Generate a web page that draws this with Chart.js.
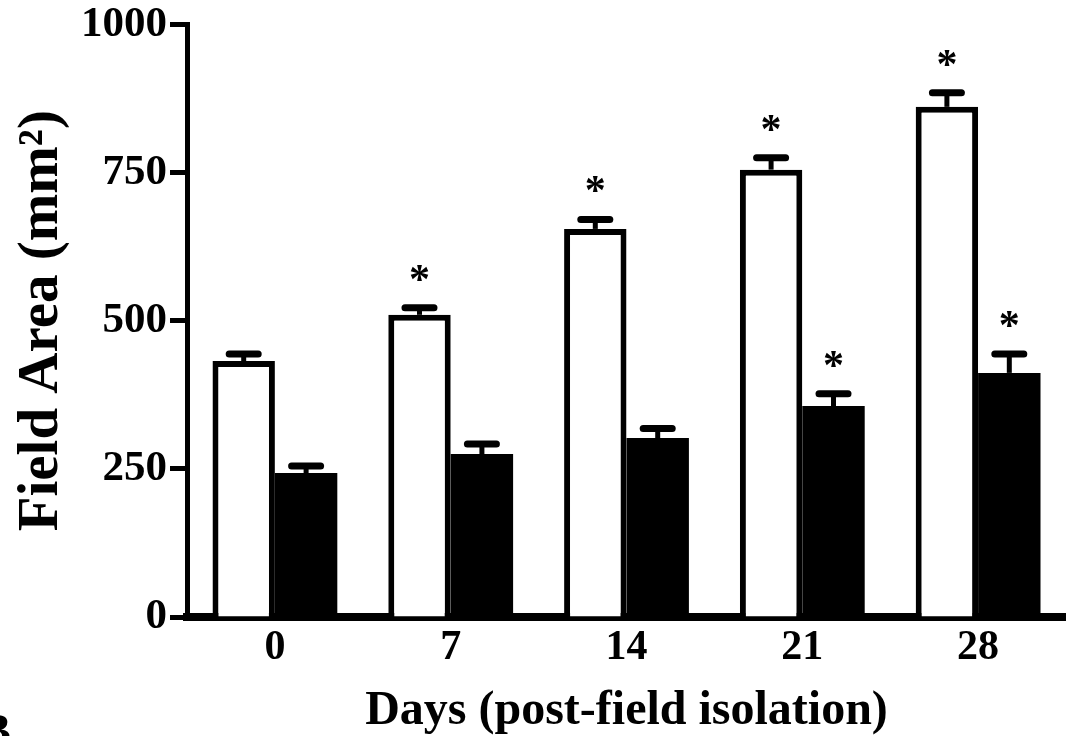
<!DOCTYPE html>
<html>
<head>
<meta charset="utf-8">
<script src="https://cdn.jsdelivr.net/npm/chart.js@4"></script>
<style>
  html, body { margin: 0; padding: 0; background: #fff; }
</style>
</head>
<body>
<canvas id="chart" width="1066" height="736"></canvas>
<script>
// Field area over time, open vs filled groups (mean + SEM)
const days = ['0', '7', '14', '21', '28'];
const openMeans = [432, 510, 655, 755, 861];
const openSem = [12, 12, 16, 20, 24];
const filledMeans = [243, 275, 302, 356, 412];
const filledSem = [12, 17, 16, 21, 32];
const openSig = [false, true, true, true, true];
const filledSig = [false, false, false, true, true];
const yTicks = [0, 250, 500, 750, 1000];

const SERIF = '"Liberation Serif", "Times New Roman", serif';

// SEM whiskers (upward only) and significance asterisks
const errorBars = {
  id: 'errorBars',
  afterDatasetsDraw(chart) {
    const ctx = chart.ctx;
    const y = chart.scales.y;
    chart.data.datasets.forEach((ds, i) => {
      const meta = chart.getDatasetMeta(i);
      meta.data.forEach((bar, j) => {
        const top = y.getPixelForValue(ds.data[j]);
        const capY = y.getPixelForValue(ds.data[j] + ds.sem[j]);
        ctx.save();
        ctx.strokeStyle = '#000';
        ctx.lineWidth = 5;
        ctx.beginPath();
        ctx.moveTo(bar.x, top);
        ctx.lineTo(bar.x, capY);
        ctx.stroke();
        ctx.lineWidth = 7;
        ctx.lineCap = 'round';
        ctx.beginPath();
        ctx.moveTo(bar.x - 14.5, capY);
        ctx.lineTo(bar.x + 14.5, capY);
        ctx.stroke();
        if (ds.sig[j]) {
          ctx.fillStyle = '#000';
          ctx.font = 'bold 42px ' + SERIF;
          ctx.textAlign = 'center';
          ctx.textBaseline = 'alphabetic';
          const m = ctx.measureText('*');
          const cy = capY - 35;
          ctx.fillText('*', bar.x, cy + (m.actualBoundingBoxAscent - m.actualBoundingBoxDescent) / 2);
        }
        ctx.restore();
      });
    });
  },
  afterDraw(chart) {
    // panel letter, cut off at the lower left edge
    const ctx = chart.ctx;
    ctx.save();
    ctx.fillStyle = '#000';
    ctx.font = 'bold 46px ' + SERIF;
    ctx.textAlign = 'right';
    ctx.textBaseline = 'alphabetic';
    ctx.fillText('B', 11, 746);
    ctx.restore();
  }
};

new Chart(document.getElementById('chart'), {
  type: 'bar',
  data: {
    labels: days,
    datasets: [
      {
        label: 'Open',
        data: openMeans,
        sem: openSem,
        sig: openSig,
        backgroundColor: '#fff',
        borderColor: '#000',
        borderWidth: 6
      },
      {
        label: 'Filled',
        data: filledMeans,
        sem: filledSem,
        sig: filledSig,
        backgroundColor: '#000',
        borderWidth: 0
      }
    ]
  },
  options: {
    responsive: false,
    animation: false,
    layout: { padding: { top: 24, right: 0, left: 0, bottom: 0 } },
    categoryPercentage: 0.71,
    barPercentage: 1.0,
    plugins: {
      legend: { display: false },
      tooltip: { enabled: false }
    },
    scales: {
      x: {
        grid: { display: false },
        border: { display: true, color: '#000', width: 8 },
        ticks: {
          color: '#000',
          padding: -2,
          font: { family: SERIF, size: 42, weight: 'bold', lineHeight: 1.2 }
        },
        title: {
          display: true,
          text: 'Days (post-field isolation)',
          color: '#000',
          padding: { top: 0, bottom: 0 },
          font: { family: SERIF, size: 48, weight: 'bold', lineHeight: 1.0 }
        },
        afterFit(scale) { scale.height = 119; }
      },
      y: {
        min: 0,
        max: 1000,
        afterBuildTicks(scale) { scale.ticks = yTicks.map(v => ({ value: v })); },
        grid: {
          display: true,
          drawOnChartArea: false,
          drawTicks: true,
          tickLength: 17,
          tickWidth: 5,
          tickColor: '#000'
        },
        border: { display: true, color: '#000', width: 5 },
        ticks: {
          color: '#000',
          padding: 3,
          callback: v => String(v),
          font: { family: SERIF, size: 43, weight: 'bold', lineHeight: 1.0 }
        },
        title: {
          display: true,
          text: 'Field Area (mm²)',
          color: '#000',
          padding: { top: 14, bottom: 0 },
          font: { family: SERIF, size: 57, weight: 'bold', lineHeight: 1.0 }
        },
        afterFit(scale) { scale.width = 187; }
      }
    }
  },
  plugins: [errorBars]
});
</script>
</body>
</html>
